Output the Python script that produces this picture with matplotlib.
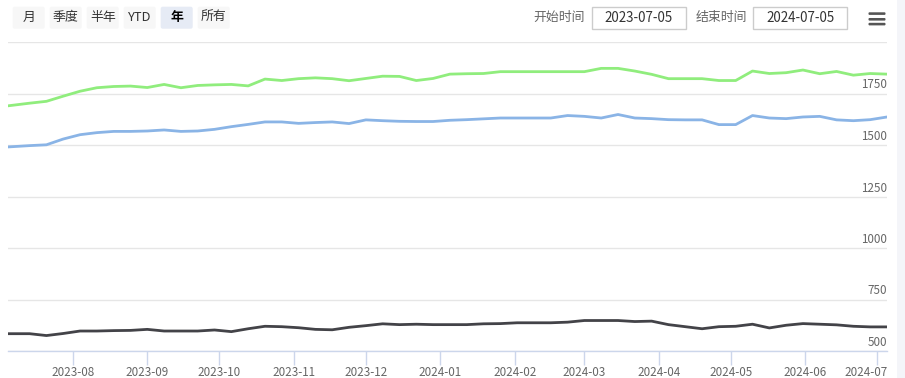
"""Weekly price lines with a stock-chart style range selector header."""

import matplotlib
matplotlib.use("Agg")
import matplotlib.dates as mdates
import matplotlib.pyplot as plt
import pandas as pd
from matplotlib.patches import FancyBboxPatch, Rectangle
from matplotlib.transforms import ScaledTranslation, blended_transform_factory

plt.rcParams["font.family"] = ["Noto Sans CJK SC", "DejaVu Sans"]

W, H = 905, 378

# ---------------------------------------------------------------------------
# Data (weekly)
# ---------------------------------------------------------------------------
dates = pd.date_range("2023-06-30", periods=54, freq="7D")

green = [1683, 1693, 1703, 1712, 1737, 1761, 1778, 1784, 1786, 1779, 1794,
         1778, 1789, 1792, 1794, 1787, 1820, 1813, 1822, 1826, 1822, 1812,
         1823, 1834, 1833, 1813, 1823, 1844, 1846, 1847, 1856, 1856, 1856,
         1856, 1856, 1856, 1872, 1872, 1859, 1843, 1822, 1822, 1822, 1813,
         1813, 1859, 1847, 1851, 1864, 1846, 1857, 1839, 1847, 1844]

blue = [1487, 1492, 1497, 1501, 1529, 1550, 1560, 1566, 1566, 1568, 1573,
        1566, 1568, 1576, 1589, 1600, 1612, 1612, 1605, 1609, 1612, 1604,
        1622, 1618, 1615, 1614, 1614, 1620, 1623, 1627, 1631, 1631, 1631,
        1631, 1643, 1639, 1631, 1648, 1631, 1628, 1623, 1622, 1622, 1599,
        1599, 1643, 1631, 1628, 1636, 1639, 1622, 1618, 1623, 1636]

dark = [584, 584, 584, 575, 585, 597, 597, 599, 600, 605, 597,
        597, 597, 602, 594, 608, 620, 618, 613, 605, 603, 615,
        623, 632, 628, 630, 628, 628, 628, 632, 633, 637, 637,
        637, 640, 648, 648, 648, 643, 645, 628, 618, 608, 618,
        620, 630, 612, 625, 633, 630, 627, 620, 617, 617]

y_ticks = [500, 750, 1000, 1250, 1500, 1750, 2000]
range_buttons = ["月", "季度", "半年", "YTD", "年", "所有"]
selected_button = "年"
start_label, end_label = "开始时间", "结束时间"
start_date, end_date = "2023-07-05", "2024-07-05"

# ---------------------------------------------------------------------------
# Figure
# ---------------------------------------------------------------------------
fig = plt.figure(figsize=(W / 100, H / 100), dpi=100)

# plot area in pixels: x 8..887, y 42..351
left, right, top, bottom = 8, 887, 42, 351
ax = fig.add_axes([left / W, 1 - bottom / H, (right - left) / W, (bottom - top) / H])

ax.plot(dates, green, color="#90ed7d", lw=2, zorder=3)
ax.plot(dates, blue, color="#8ab4e6", lw=2, zorder=3)
ax.plot(dates, dark, color="#434348", lw=2, zorder=3)

ax.set_xlim(pd.Timestamp(start_date), pd.Timestamp(end_date))
ax.set_ylim(500, 2000)

ax.set_yticks(y_ticks)
ax.yaxis.grid(True, color="#e6e6e6", lw=1)
ax.set_axisbelow(True)
ax.tick_params(axis="y", length=0, labelleft=False)

for side in ("left", "right", "top"):
    ax.spines[side].set_visible(False)
ax.spines["bottom"].set_color("#ccd6eb")
ax.spines["bottom"].set_linewidth(1)

ax.xaxis.set_major_locator(mdates.MonthLocator())
ax.xaxis.set_major_formatter(mdates.DateFormatter("%Y-%m"))
ax.tick_params(axis="x", direction="out", length=10, width=1, color="#ccd6eb",
               labelsize=8.4, labelcolor="#666666", pad=1)

# the last month label is pulled inside the plot edge
fig.canvas.draw()
last = ax.get_xticklabels()[-1]
last.set_horizontalalignment("right")
last.set_transform(last.get_transform() + ScaledTranslation(10.5 / 100, 0, fig.dpi_scale_trans))

# y labels sit inside, right-aligned, just above their gridline
tr = blended_transform_factory(ax.transAxes, ax.transData) + \
    ScaledTranslation(0, 2 / 100, fig.dpi_scale_trans)
for v in y_ticks[:-1]:
    ax.text(1.0, v, str(v), transform=tr, ha="right", va="bottom",
            fontsize=8.4, color="#666666")

# ---------------------------------------------------------------------------
# Header controls (pixel overlay)
# ---------------------------------------------------------------------------
ov = fig.add_axes([0, 0, 1, 1], zorder=5)
ov.set_xlim(0, W)
ov.set_ylim(H, 0)
ov.axis("off")
ov.patch.set_alpha(0)

bx = 12.7
for name in range_buttons:
    sel = name == selected_button
    ov.add_patch(FancyBboxPatch((bx, 6.7), 32, 22,
                                boxstyle="round,pad=0,rounding_size=2",
                                fc="#e6ebf5" if sel else "#f7f7f7", ec="none"))
    ov.text(bx + 16, 17.5, name, ha="center", va="center", fontsize=9.3,
            color="#000000" if sel else "#333333",
            fontweight="bold" if sel else "normal")
    bx += 37

for label, date, lx, boxx in [(start_label, start_date, 559, 591.7),
                              (end_label, end_date, 721, 753.3)]:
    ov.text(lx, 17.5, label, ha="center", va="center", fontsize=9.3, color="#666666")
    ov.add_patch(Rectangle((boxx, 7), 94, 21.7, fc="white", ec="#cccccc", lw=1))
    ov.text(boxx + 47, 17.5, date, ha="center", va="center", fontsize=9.6, color="#333333")

# hamburger menu icon
for yb in (12.3, 18.0, 22.8):
    ov.add_patch(FancyBboxPatch((868.5, yb), 17, 2.6,
                                boxstyle="round,pad=0,rounding_size=1",
                                fc="#555555", ec="none"))

# scrollbar strip at the right edge
ov.add_patch(Rectangle((897, 0), 8, H, fc="#f4f5f9", ec="none"))

fig.savefig("out.png", dpi=100)
